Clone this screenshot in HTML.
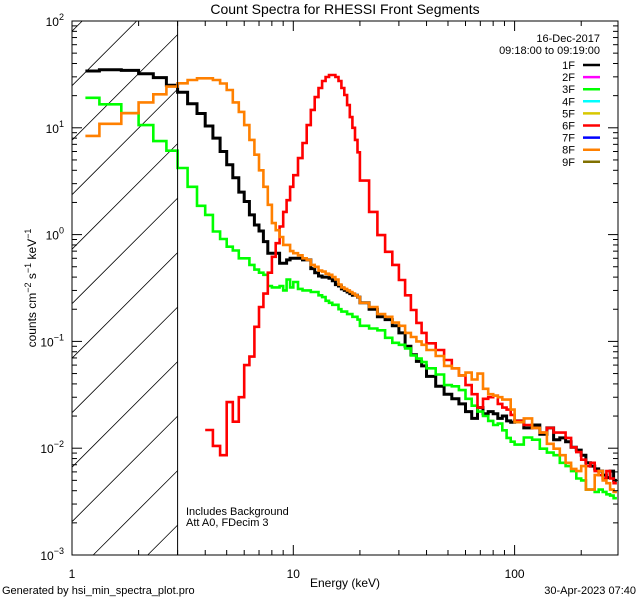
<!DOCTYPE html>
<html><head><meta charset="utf-8">
<style>
html,body{margin:0;padding:0;background:#fff;width:640px;height:600px;overflow:hidden;position:relative;}
svg{display:block;position:absolute;left:0;top:0;font-family:"Liberation Sans",sans-serif;}
</style></head>
<body>
<svg id="chart" width="640" height="600" viewBox="0 0 640 600" xmlns="http://www.w3.org/2000/svg" overflow="hidden">
<defs><clipPath id="pc"><rect x="72" y="21" width="546" height="534"/></clipPath></defs>
<rect width="640" height="600" fill="#fff"/>
<text x="345" y="14" font-size="14" text-anchor="middle">Count Spectra for RHESSI Front Segments</text>
<g id="hatch"></g>
<g id="series" clip-path="url(#pc)"></g>
<g id="axes"></g>
<line x1="177.6" y1="21" x2="177.6" y2="555" stroke="#000" stroke-width="1"/>
<text transform="translate(36,288) rotate(-90)" font-size="12" text-anchor="middle">counts cm<tspan dy="-5" font-size="9">−2</tspan><tspan dy="5"> s</tspan><tspan dy="-5" font-size="9">−1</tspan><tspan dy="5"> keV</tspan><tspan dy="-5" font-size="9">−1</tspan></text>
<text x="345" y="587" font-size="12" text-anchor="middle">Energy (keV)</text>
<text x="2" y="594" font-size="11">Generated by hsi_min_spectra_plot.pro</text>
<text x="636" y="594" font-size="11" text-anchor="end">30-Apr-2023 07:40</text>
<text x="186" y="515" font-size="11">Includes Background</text>
<text x="186" y="526" font-size="11">Att A0, FDecim 3</text>
<text x="600" y="42" font-size="11" text-anchor="end">16-Dec-2017</text>
<text x="600" y="54" font-size="11" text-anchor="end">09:18:00 to 09:19:00</text>
<g id="legend"></g>
</svg>
<script>
const edges = [1.15,1.33,1.67,2,2.33,2.67,3,3.33,3.67,4,4.33,4.67,5,5.33,5.67,6,6.33,6.67,7,7.33,7.67,8,8.33,8.67,9,9.33,9.67,10,
10.5,11,11.5,12,12.5,13,13.5,14,14.5,15,15.5,16,16.5,17,17.5,18,18.5,19,19.5,20,
22,24,26,28,30,32,34,36,38,40,44,48,52,56,60,64,68,72,76,80,84,88,92,96,100,
110,120,130,140,150,160,170,180,190,200,210,220,230,240,250,260,270,280,290];
const seg1F = [34,35,34.5,32,29.5,25,21.5,16.8,13.6,10.4,8.0,6.0,4.5,3.4,2.5,2.04,1.53,1.23,1.08,0.86,0.67,0.67,0.67,0.54,0.54,0.58,0.60,
0.60,0.60,0.58,0.58,0.48,0.44,0.41,0.40,0.40,0.39,0.37,0.34,0.33,0.31,0.30,0.29,0.28,0.27,0.27,0.26,
0.23,0.2,0.17,0.16,0.14,0.12,0.09,0.075,0.065,0.059,
0.047,0.038,0.032,0.029,0.026,0.022,0.019,0.024,0.021,0.022,0.021,0.019,0.020,0.018,0.0175,
0.018,0.0155,0.0165,0.0135,0.0155,0.012,0.0125,0.0115,0.0102,0.0096,0.0086,0.0073,0.0068,0.0064,0.0061,0.0056,0.0053,0.0061,0.0050];
const seg3F = [19.1,16.6,13.7,10.6,7.5,6.1,4.2,2.8,1.86,1.53,1.07,0.91,0.77,0.71,0.6,0.6,0.52,0.47,0.44,0.42,0.33,0.32,0.32,0.33,0.30,0.38,0.32,
0.36,0.31,0.30,0.30,0.29,0.29,0.27,0.26,0.24,0.23,0.22,0.22,0.20,0.19,0.19,0.18,0.18,0.17,0.17,0.16,
0.14,0.132,0.127,0.108,0.097,0.093,0.086,0.074,0.069,0.064,
0.056,0.049,0.039,0.038,0.035,0.029,0.025,0.022,0.020,0.018,0.0165,0.017,0.0147,0.0125,0.0115,
0.0108,0.0126,0.012,0.0099,0.0091,0.0086,0.0073,0.0068,0.0061,0.0052,0.005,0.0041,0.0041,0.0039,0.0041,0.0039,0.0037,0.0036,0.0034];
const seg6F = [null,null,null,null,null,null,null,null,null,0.0148,0.0105,0.0086,0.027,0.0177,0.030,0.060,0.072,0.137,0.21,0.28,0.44,0.62,0.83,1.19,1.63,2.1,2.8,
3.6,5.2,7.2,10.6,14.7,19.4,23.6,27.4,29.9,31.2,31.2,29.9,27.4,23.6,20.3,16.3,12.6,10,7.7,5.9,
3.2,1.63,0.99,0.69,0.52,0.376,0.27,0.197,0.149,0.12,
0.096,0.083,0.067,0.056,0.048,0.039,0.032,0.024,0.029,0.030,0.031,0.026,0.024,0.023,0.0205,
0.018,0.0165,0.0155,0.014,0.0155,0.014,0.014,0.0125,0.0102,0.0092,0.0078,0.0068,0.0073,0.0061,0.0056,0.0052,0.0061,0.0052,0.0047];
const seg8F = [8.4,10.9,13.7,17.3,20.6,24.3,26.1,28,29.1,29.1,28,26,22.6,17.3,14.1,10.6,7.7,5.6,4.0,2.8,1.9,1.28,1.1,0.95,0.8,0.8,0.7,
0.67,0.64,0.60,0.58,0.52,0.50,0.46,0.45,0.43,0.42,0.40,0.38,0.34,0.32,0.31,0.30,0.29,0.28,0.27,0.26,
0.23,0.21,0.18,0.17,0.15,0.14,0.12,0.11,0.10,0.093,
0.083,0.073,0.059,0.056,0.048,0.051,0.044,0.050,0.036,0.032,0.031,0.030,0.0285,0.0285,0.023,
0.0175,0.019,0.0155,0.014,0.011,0.0099,0.0086,0.0073,0.0064,0.0061,0.0068,0.0041,0.0041,0.0056,0.0061,0.005,0.0047,0.0041,0.0039];
const legendLabels = ["1F","2F","3F","4F","5F","6F","7F","8F","9F"];
const legendColors = ["#000000","#ff00ff","#00ff00","#00ffff","#d8c800","#ff0000","#0000ff","#ff8000","#807000"];
const xTickMajors = [1,10,100];
const yTickExps = [2,1,0,-1,-2,-3];

const NS="http://www.w3.org/2000/svg";
const X0=72,X1=618,Y0=21,Y1=555,XD=221.3,YD=106.8,XC=177.6;
function xs(e){return X0+XD*Math.log10(e);}
function ys(v){return Y0+(2-Math.log10(v))*YD;}
function mk(tag,attrs,parent){const el=document.createElementNS(NS,tag);for(const k in attrs)el.setAttribute(k,attrs[k]);parent.appendChild(el);return el;}

const hatch=document.getElementById('hatch');
for(let k=-2;k<14;k++){
  const c=31.2+k*54.5;
  const xa=Math.max(X0,X0+c-Y1), xb=Math.min(XC,X0+c-Y0);
  if(xb<=xa)continue;
  const l=mk('line',{x1:xa,y1:c-(xa-X0),x2:xb,y2:c-(xb-X0),stroke:'#000','stroke-width':0.8},hatch);
  
  
}

const series=document.getElementById('series');
function drawSeries(vals,color,name,w){
  let d='',pen=false;
  for(let i=0;i<vals.length;i++){
    const v=vals[i];
    if(v==null){pen=false;continue;}
    const y=ys(v).toFixed(1);
    if(!pen){d+='M'+xs(edges[i]).toFixed(1)+' '+y;pen=true;}
    else d+='V'+y;
    d+='H'+xs(edges[i+1]).toFixed(1);
  }
  const p=mk('path',{d:d,fill:'none',stroke:color,'stroke-width':w,'stroke-linejoin':'miter'},series);
  
  
}
drawSeries(seg1F,'#000000','series-1f',3);
drawSeries(seg3F,'#00ff00','series-3f',2.6);
drawSeries(seg6F,'#ff0000','series-6f',2.6);
drawSeries(seg8F,'#ff8000','series-8f',2.6);

const axes=document.getElementById('axes');
const frame=mk('rect',{x:X0,y:Y0,width:X1-X0,height:Y1-Y0,fill:'none',stroke:'#000','stroke-width':1},axes);


for(const m of xTickMajors){
  for(let j=1;j<10;j++){
    const e=m*j;const x=xs(e);
    if(x>X1+0.5)break;
    const len=j===1?10:5;
    mk('line',{x1:x,y1:Y1,x2:x,y2:Y1-len,stroke:'#000','stroke-width':1},axes);
    mk('line',{x1:x,y1:Y0,x2:x,y2:Y0+len,stroke:'#000','stroke-width':1},axes);
  }
  const t=mk('text',{x:xs(m),y:578,'font-size':12,'text-anchor':'middle'},axes);
  t.textContent=String(m);
  
  
}
for(const ex of yTickExps){
  const y=ys(Math.pow(10,ex));
  mk('line',{x1:X0,y1:y,x2:X0+10,y2:y,stroke:'#000','stroke-width':1},axes);
  mk('line',{x1:X1,y1:y,x2:X1-10,y2:y,stroke:'#000','stroke-width':1},axes);
  if(ex>-3){for(let j=2;j<10;j++){const yy=ys(j*Math.pow(10,ex-1));
    mk('line',{x1:X0,y1:yy,x2:X0+5,y2:yy,stroke:'#000','stroke-width':1},axes);
    mk('line',{x1:X1,y1:yy,x2:X1-5,y2:yy,stroke:'#000','stroke-width':1},axes);}}
  const t=mk('text',{x:64,y:y+5,'font-size':12,'text-anchor':'end'},axes);
  
  
  const a=document.createElementNS(NS,'tspan');a.textContent='10';t.appendChild(a);
  const b=document.createElementNS(NS,'tspan');b.setAttribute('dy','-6');b.setAttribute('font-size','9');
  b.textContent=ex<0?('−'+(-ex)):String(ex);t.appendChild(b);
}

const legend=document.getElementById('legend');
for(let i=0;i<legendLabels.length;i++){
  const y=65+i*12.1;
  const t=mk('text',{x:575,y:y+4,'font-size':11,'text-anchor':'end'},legend);
  t.textContent=legendLabels[i];
  
  
  const l=mk('line',{x1:583,y1:y,x2:600,y2:y,stroke:legendColors[i],'stroke-width':2.5},legend);
  
  
}
</script>
</body></html>
